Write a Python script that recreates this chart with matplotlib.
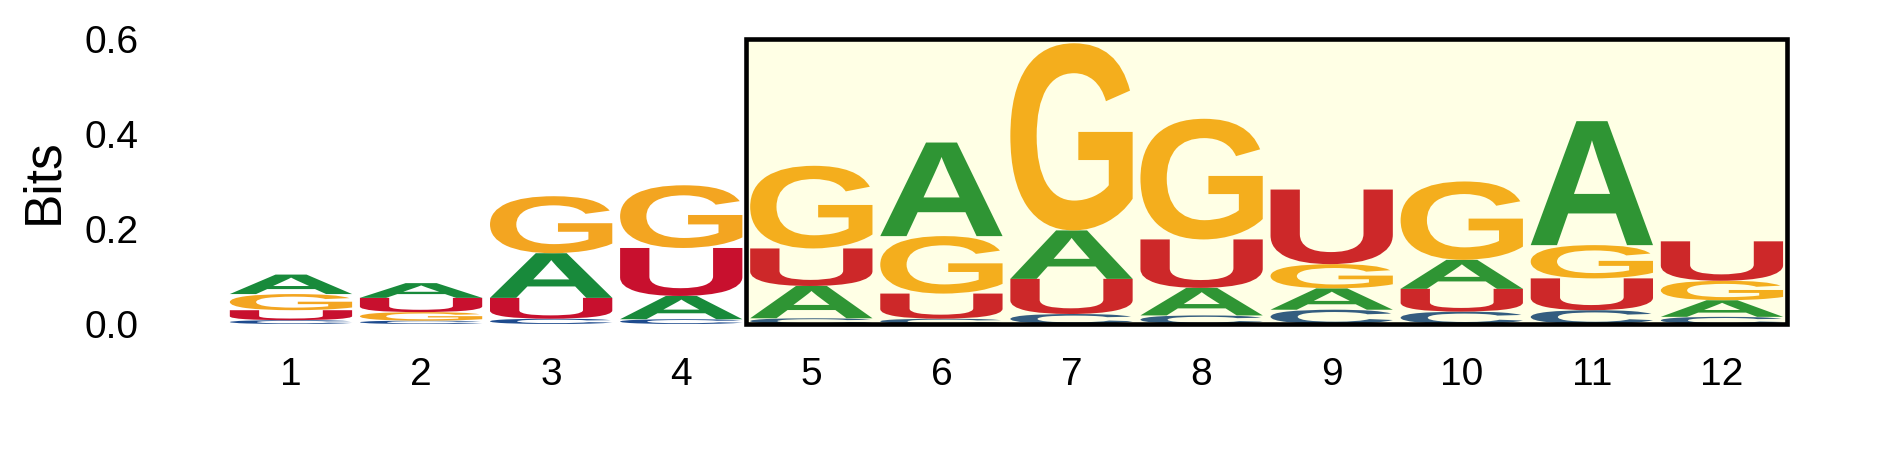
import numpy as np
import matplotlib
matplotlib.use('Agg')
import matplotlib.pyplot as plt
from matplotlib.textpath import TextPath
from matplotlib.patches import PathPatch, Rectangle
from matplotlib.font_manager import FontProperties
from matplotlib.transforms import Affine2D

plt.rcParams['font.family'] = ['Liberation Sans', 'DejaVu Sans']

# information content (bits) per base at each position
positions = list(range(1, 13))
bits_A = [0.041, 0.031, 0.094, 0.049, 0.068, 0.197, 0.102, 0.058, 0.045, 0.061, 0.261, 0.035]
bits_C = [0.008, 0.007, 0.011, 0.010, 0.012, 0.011, 0.021, 0.018, 0.030, 0.026, 0.029, 0.015]
bits_G = [0.034, 0.018, 0.120, 0.132, 0.174, 0.121, 0.394, 0.254, 0.051, 0.165, 0.070, 0.041]
bits_U = [0.021, 0.030, 0.044, 0.101, 0.079, 0.053, 0.074, 0.102, 0.157, 0.048, 0.067, 0.083]
yticks = [0.0, 0.2, 0.4, 0.6]

colors = {'A': '#188A3B', 'C': '#1E4B8E', 'G': '#F3A521', 'U': '#C8102E'}
fp = FontProperties(family='Liberation Sans', weight='bold')


def draw_letter(ax, ch, x, y, w, h, color):
    tp = TextPath((0, 0), ch, size=1, prop=fp)
    bb = tp.get_extents()
    t = (Affine2D().translate(-bb.x0, -bb.y0)
         .scale(w / bb.width, h / bb.height)
         .translate(x - w / 2, y))
    ax.add_patch(PathPatch(t.transform_path(tp), facecolor=color,
                           edgecolor='none', zorder=2, clip_on=False))


fig = plt.figure(figsize=(18.89, 4.72), dpi=100)
ax = fig.add_axes([0.1196, 0.3136, 0.8264, 0.6038])

for i, pos in enumerate(positions):
    col = {'A': bits_A[i], 'C': bits_C[i], 'G': bits_G[i], 'U': bits_U[i]}
    y = 0
    for base, h in sorted(col.items(), key=lambda kv: kv[1]):
        draw_letter(ax, base, pos, y, 0.94, h, colors[base])
        y += h

# highlighted region
ax.add_patch(Rectangle((4.5, 0), 8, 0.6, facecolor='yellow', alpha=0.1,
                       edgecolor='none', zorder=3, clip_on=False))
ax.add_patch(Rectangle((4.5, 0), 8, 0.6, facecolor='none', edgecolor='black',
                       lw=3.3, zorder=4, clip_on=False))

ax.set_xlim(0.5, 12.5)
ax.set_ylim(0, 0.6)
ax.set_xticks(positions)
ax.set_yticks(yticks)
ax.set_yticklabels(['%.1f' % v for v in yticks])
ax.tick_params(axis='x', length=0, labelsize=28, pad=24)
ax.tick_params(axis='y', length=0, labelsize=28, pad=63)
for s in ax.spines.values():
    s.set_visible(False)
ax.set_ylabel('Bits', fontsize=37)
ax.yaxis.set_label_coords(-0.101, 0.5)

fig.savefig('out.png', dpi=100)
